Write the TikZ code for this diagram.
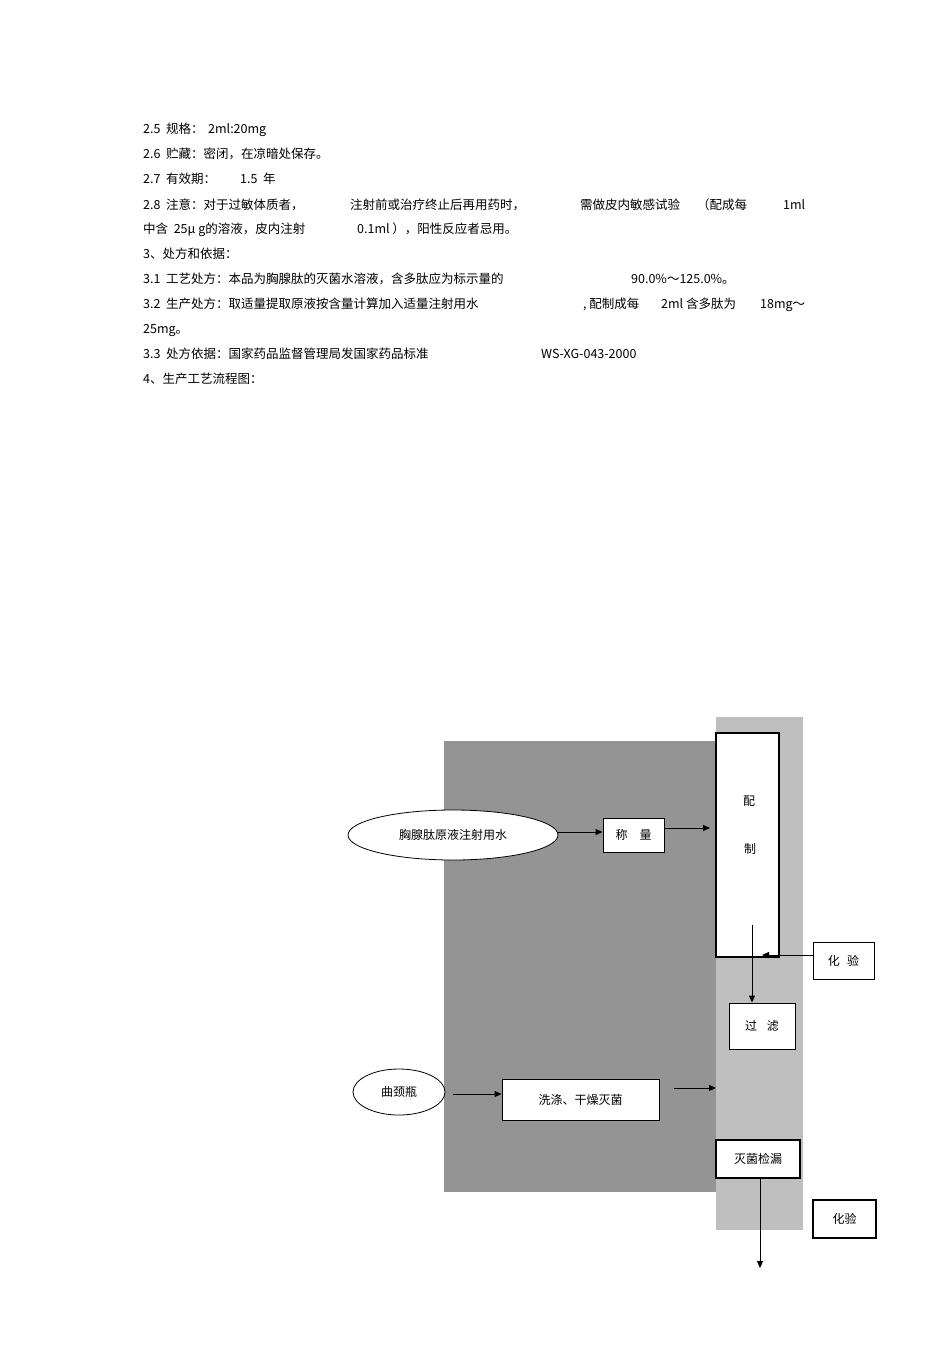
\documentclass[tikz,border=0pt]{standalone}
\usepackage{fontspec}
\setmainfont{Noto Sans CJK SC}
\usetikzlibrary{arrows.meta,shapes.geometric}
\begin{document}
\begin{tikzpicture}[x=1pt,y=-1pt,
  txt/.style={anchor=base west,inner sep=0pt,font=\fontsize{12.5}{14}\selectfont},
  lbl/.style={font=\fontsize{12}{14}\selectfont},
  wbox/.style={draw,fill=white,line width=0.9pt,inner sep=0pt},
  oval/.style={draw,fill=white,ellipse,line width=0.8pt,inner sep=0pt},
  arr/.style={-{Triangle[length=7pt,width=6pt]},line width=1pt}]
\useasboundingbox (0,0) rectangle (950,1345);
\fill[white] (0,0) rectangle (950,1345);
% text
\node[txt] (t1) at (143,133) {2.5\ \ 规格：};
\node[txt] (t1b) at (208,133) {2ml:20mg};
\node[txt] (t2) at (143,158) {2.6\ \ 贮藏：密闭，在凉暗处保存。};
\node[txt] (t3) at (143,183) {2.7\ \ 有效期：};
\node[txt] (t3b) at (240,183) {1.5\ \ 年};
\node[txt] (t4) at (143,209) {2.8\ \ 注意：对于过敏体质者，};
\node[txt] (t4b) at (350,209) {注射前或治疗终止后再用药时，};
\node[txt] (t4c) at (580,209) {需做皮内敏感试验};
\node[txt] (t4d) at (697,209) {（配成每};
\node[txt] (t4e) at (783,209) {1ml};
\node[txt] (t5) at (143,233) {中含\ \ 25μ g的溶液，皮内注射};
\node[txt] (t5b) at (357,233) {0.1ml ），阳性反应者忌用。};
\node[txt] (t6) at (143,258) {3、处方和依据：};
\node[txt] (t7) at (143,283) {3.1\ \ 工艺处方：本品为胸腺肽的灭菌水溶液，含多肽应为标示量的};
\node[txt] (t7b) at (631,283) {90.0\%～125.0\%。};
\node[txt] (t8) at (143,308) {3.2\ \ 生产处方：取适量提取原液按含量计算加入适量注射用水};
\node[txt] (t8b) at (583,308) {, 配制成每};
\node[txt] (t8c) at (661,308) {2ml 含多肽为};
\node[txt] (t8d) at (760,308) {18mg～};
\node[txt] (t9) at (143,333) {25mg。};
\node[txt] (t10) at (143,358) {3.3\ \ 处方依据：国家药品监督管理局发国家药品标准};
\node[txt] (t10b) at (541,358) {WS-XG-043-2000};
\node[txt] (t11) at (143,383) {4、生产工艺流程图：};
% background areas
\fill[black!42] (444,741) rectangle (716,1192);
\fill[black!25] (716,717) rectangle (803,1230);
% nodes
\node[wbox,line width=1.5pt,minimum width=63pt,minimum height=224pt] (mix) at (747.5,845) {};
\node[lbl] (mix1) at (749,801) {配};
\node[lbl] (mix2) at (750,849) {制};
\node[oval,minimum width=210pt,minimum height=50pt,lbl] (raw) at (453,835) {胸腺肽原液注射用水};
\node[wbox,minimum width=61pt,minimum height=34pt,lbl] (weigh) at (633.5,835) {称\hspace{1em}量};
\node[wbox,minimum width=61pt,minimum height=37pt,lbl] (test1) at (843.5,960.5) {化\hspace{0.6em}验};
\node[wbox,minimum width=66pt,minimum height=46pt,lbl] (filt) at (762,1026) {过\hspace{0.8em}滤};
\node[oval,minimum width=92pt,minimum height=46pt,lbl] (flask) at (399,1092) {曲颈瓶};
\node[wbox,minimum width=157pt,minimum height=41pt,lbl] (wash) at (580.5,1099.5) {洗涤、干燥灭菌};
\node[wbox,line width=1.3pt,minimum width=84pt,minimum height=38pt,lbl] (leak) at (758,1159) {灭菌检漏};
\node[wbox,line width=1.3pt,minimum width=63pt,minimum height=38pt,lbl] (test2) at (844.5,1219) {化验};
\coordinate (end) at (760,1268);
\coordinate (mixin) at (710,828);
\coordinate (mixtop) at (752,925);
\coordinate (washout) at (716,1088);
% connectors
\draw[arr] (raw.east|-0,832) -- (weigh.west|-0,832);
\draw[arr] (weigh.east|-0,828) -- (mixin);
\draw[arr] (test1.west|-0,955) -- (762,955);
\draw[arr] (mixtop) -- (filt.north-|mixtop);
\draw[arr] (453,1094) -- (wash.west|-0,1094);
\draw[arr] (674,1088) -- (washout);
\draw[arr] (leak.south-|end) -- (end);
\end{tikzpicture}
\end{document}
